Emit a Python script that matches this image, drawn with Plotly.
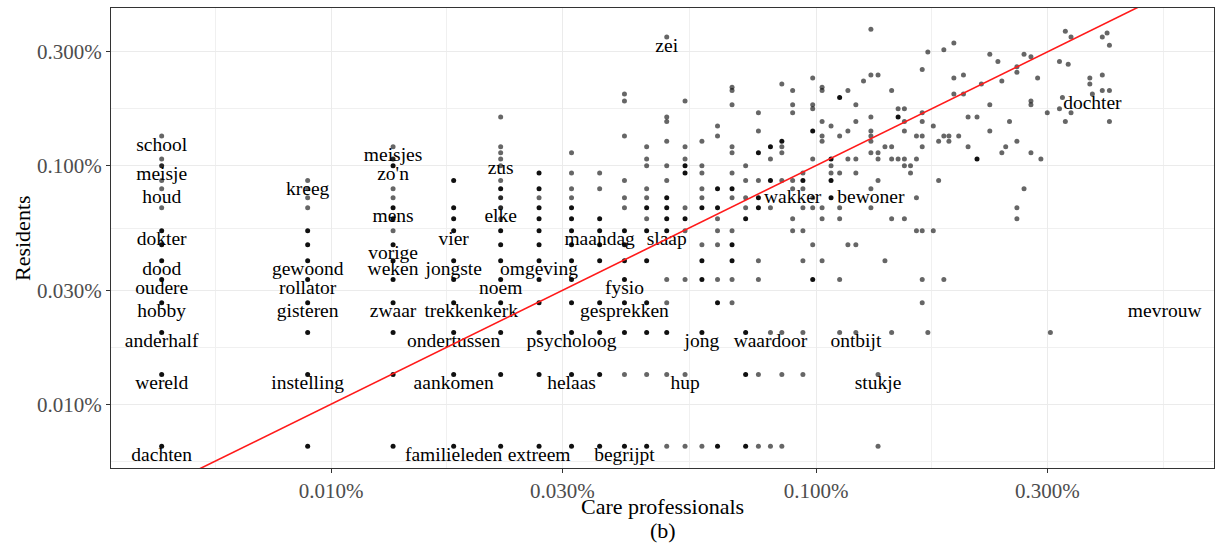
import math
import plotly.graph_objects as go

# One occurrence of a word, expressed as a percentage of each corpus
CP_PCT_PER_WORD = 0.004475   # care professionals
RES_PCT_PER_WORD = 0.00666   # residents

# Word frequencies (occurrence counts); overlap = number of words
# sharing exactly the same pair of counts (stacked translucent dots look darker)
cp_count = [
    1, 1, 1, 1, 1, 1, 1, 1, 1, 1, 1, 1, 1, 1,
    2, 2, 2, 2, 2, 2, 2, 2, 2, 2, 2, 2,
    3, 3, 3, 3, 3, 3, 3, 3, 3, 3, 3, 3, 3, 3, 3,
    4, 4, 4, 4, 4, 4, 4, 4, 4, 4,
    5, 5, 5, 5, 5, 5, 5, 5, 5, 5, 5, 5, 5, 5, 5, 5, 5, 5,
    6, 6, 6, 6, 6, 6, 6, 6, 6, 6, 6, 6, 6,
    7, 7, 7, 7, 7, 7, 7, 7, 7, 7, 7, 7, 7, 7,
    8, 8, 8, 8, 8, 8, 8, 8, 8, 8,
    9, 9, 9, 9, 9, 9, 9, 9, 9, 9, 9, 9, 9, 9,
    10, 10, 10, 10, 10, 10, 10, 10, 10, 10, 10, 10, 10,
    11, 11, 11, 11, 11, 11, 11, 11, 11, 11, 11, 11, 11, 11, 11,
    12, 12, 12, 12, 12, 12, 12, 12, 12, 12, 12,
    13, 13, 13, 13, 13, 13, 13, 13, 13, 13, 13,
    14, 14, 14, 14, 14, 14, 14, 14, 14, 14,
    15, 15, 15, 15, 15, 15, 15, 15, 15, 15, 15, 15, 15,
    16, 16, 16, 16, 16, 16, 16, 16,
    17, 17, 17, 17, 17, 17, 17, 17, 17, 17,
    18, 18, 18, 18, 18, 18,
    19, 19, 19, 19, 19, 19, 19, 19,
    20, 20, 20, 20, 20, 20, 20,
    21, 21, 21, 21, 21, 21, 21, 21,
    22, 22, 22, 22, 22, 22, 22, 22, 22,
    23, 23, 23, 23, 23, 23, 23, 23,
    24, 24, 24, 24, 24, 24,
    25, 25, 25, 25, 25, 25, 25,
    26, 26, 26, 26,
    27, 27, 27, 27, 27, 27,
    28,
    29, 29, 29, 29, 29, 29, 29, 29, 29,
    30, 30, 30, 30, 30, 30,
    31, 31,
    32, 32, 32, 32, 32,
    33, 33, 33,
    34, 34, 34, 34, 34, 34,
    35, 35,
    36, 36, 36, 36,
    37, 37, 37, 37, 37, 37, 37, 37,
    38, 38,
    39, 39,
    40, 40,
    41, 41, 41,
    42, 42,
    43, 43, 43,
    44,
    45, 45,
    46, 46,
    48, 48,
    49,
    51, 51, 51,
    53,
    54, 54,
    55,
    56,
    58, 58, 58, 58, 58,
    60, 60,
    62, 62, 62, 62,
    64,
    65,
    67,
    68,
    71, 71,
    72,
    73, 73,
    74,
    75, 75,
    82, 82,
    83,
    87, 87, 87,
    89,
    90, 90, 90,
]
res_count = [
    1, 2, 3, 4, 5, 6, 7, 8, 10, 12, 13, 15, 16, 20,
    1, 2, 3, 4, 5, 6, 7, 8, 10, 11, 12, 13,
    1, 2, 3, 4, 5, 6, 7, 8, 9, 10, 11, 12, 15, 16, 18,
    1, 2, 3, 4, 5, 6, 8, 9, 10, 13,
    1, 2, 3, 4, 5, 6, 7, 8, 9, 10, 11, 12, 13, 15, 16, 17, 18, 24,
    1, 2, 3, 4, 5, 6, 7, 8, 9, 10, 11, 12, 14,
    1, 2, 3, 4, 5, 6, 7, 8, 9, 10, 11, 12, 14, 17,
    1, 2, 3, 4, 6, 7, 8, 9, 12, 14,
    1, 2, 3, 4, 5, 6, 7, 8, 10, 11, 13, 20, 28, 30,
    1, 2, 3, 4, 6, 8, 9, 10, 11, 12, 15, 16, 18,
    1, 2, 3, 4, 5, 8, 9, 10, 11, 13, 15, 19, 23, 24, 52,
    1, 2, 5, 8, 9, 10, 14, 15, 16, 18, 28,
    1, 3, 5, 6, 7, 10, 11, 12, 14, 15, 19,
    1, 4, 5, 7, 8, 9, 10, 12, 20, 22,
    4, 5, 6, 7, 8, 11, 12, 14, 17, 18, 27, 31, 32,
    1, 2, 3, 9, 10, 11, 13, 15,
    1, 2, 5, 6, 10, 11, 13, 17, 21, 25,
    1, 3, 10, 13, 16, 18,
    1, 2, 3, 13, 17, 18, 19, 33,
    8, 9, 12, 13, 25, 27, 31,
    2, 3, 6, 8, 10, 12, 13, 14,
    5, 7, 10, 11, 16, 21, 26, 27, 35,
    6, 9, 10, 19, 20, 23, 31, 32,
    11, 13, 14, 15, 16, 22,
    3, 5, 9, 10, 14, 20, 29,
    7, 16, 21, 31,
    3, 7, 14, 16, 23, 27,
    34,
    10, 12, 17, 19, 20, 21, 24, 36, 56,
    1, 2, 13, 16, 17, 36,
    6, 18,
    3, 9, 16, 18, 31,
    16, 24, 26,
    9, 15, 16, 21, 23, 26,
    14, 15,
    8, 11, 16, 20,
    4, 5, 8, 18, 20, 23, 25, 38,
    3, 45,
    8, 22,
    13, 19,
    5, 20, 46,
    19, 20,
    30, 35, 49,
    20,
    30, 36,
    18, 24,
    16, 24,
    33,
    21, 27, 44,
    41,
    17, 34,
    18,
    23,
    9, 10, 19, 37, 39,
    12, 44,
    17, 27, 28, 43,
    35,
    16,
    25,
    3,
    26, 41,
    29,
    23, 55,
    40,
    25, 52,
    33, 35,
    30,
    31, 36, 52,
    54,
    23, 31, 48,
]
overlap = [
    3, 3, 3, 3, 3, 3, 3, 3, 1, 1, 1, 2, 1, 1,
    3, 3, 3, 3, 3, 3, 3, 3, 1, 1, 1, 1,
    3, 3, 3, 3, 3, 3, 3, 1, 3, 3, 1, 1, 3, 2, 1,
    3, 3, 3, 3, 3, 3, 3, 3, 3, 3,
    3, 3, 3, 3, 3, 3, 3, 3, 1, 2, 2, 3, 1, 1, 1, 1, 1, 1,
    3, 3, 3, 3, 3, 3, 3, 3, 3, 3, 1, 3, 3,
    3, 3, 3, 3, 3, 3, 3, 3, 3, 3, 1, 1, 1, 1,
    3, 3, 3, 3, 3, 3, 3, 3, 1, 1,
    3, 1, 3, 3, 3, 3, 3, 3, 1, 1, 1, 1, 1, 1,
    3, 1, 3, 3, 3, 3, 1, 3, 1, 1, 1, 1, 1,
    1, 1, 3, 1, 1, 3, 3, 3, 3, 1, 1, 1, 1, 1, 1,
    1, 1, 1, 1, 3, 1, 3, 3, 1, 1, 1,
    1, 3, 3, 3, 1, 3, 1, 1, 1, 1, 1,
    3, 3, 1, 1, 1, 1, 3, 3, 1, 1,
    1, 1, 3, 3, 1, 1, 3, 1, 1, 1, 1, 1, 1,
    3, 3, 3, 3, 1, 1, 1, 1,
    1, 1, 1, 1, 3, 3, 1, 3, 1, 1,
    1, 1, 1, 3, 1, 3,
    1, 1, 1, 1, 1, 1, 3, 1,
    1, 1, 1, 1, 1, 1, 1,
    1, 1, 1, 1, 1, 1, 3, 1,
    3, 1, 1, 1, 1, 3, 1, 1, 1,
    1, 1, 1, 1, 1, 1, 1, 1,
    3, 3, 1, 1, 3, 1,
    1, 1, 1, 1, 1, 1, 3,
    1, 1, 1, 1,
    1, 1, 1, 1, 1, 1,
    1,
    1, 1, 1, 1, 1, 1, 1, 1, 1,
    1, 1, 1, 1, 1, 1,
    1, 1,
    1, 1, 1, 1, 1,
    1, 3, 1,
    1, 1, 1, 1, 1, 1,
    1, 1,
    1, 1, 1, 1,
    1, 1, 1, 1, 1, 1, 1, 1,
    1, 1,
    1, 1,
    1, 1,
    1, 1, 1,
    1, 1,
    1, 1, 1,
    1,
    1, 1,
    1, 1,
    3, 1,
    1,
    1, 1, 1,
    1,
    1, 1,
    1,
    1,
    1, 1, 1, 1, 1,
    1, 1,
    1, 1, 1, 1,
    1,
    1,
    1,
    1,
    1, 1,
    1,
    1, 1,
    1,
    1, 1,
    1, 1,
    1,
    1, 1, 1,
    1,
    1, 1, 1,
]

# Labelled words and their counts
label_words = [
    "dachten", "wereld", "anderhalf", "hobby", "oudere", "dood", "dokter", "houd", "meisje", "school",
    "instelling", "gisteren", "rollator", "gewoond", "kreeg",
    "zwaar", "weken", "vorige", "mens", "zo'n", "meisjes",
    "familieleden", "aankomen", "ondertussen", "trekken", "jongste", "vier",
    "kerk", "noem", "elke", "zus",
    "extreem", "omgeving", "helaas", "psycholoog", "maandag",
    "begrijpt", "gesprekken", "fysio", "slaap", "zei", "hup", "jong",
    "waardoor", "wakker", "ontbijt", "bewoner", "stukje", "dochter", "mevrouw",
]
label_cp = [
    1, 1, 1, 1, 1, 1, 1, 1, 1, 1,
    2, 2, 2, 2, 2,
    3, 3, 3, 3, 3, 3,
    4, 4, 4, 4, 4, 4,
    5, 5, 5, 5,
    6, 6, 7, 7, 8,
    9, 9, 9, 11, 11, 12, 13,
    18, 20, 27, 29, 30, 83, 117,
]
label_res = [
    1, 2, 3, 4, 5, 6, 8, 12, 15, 20,
    2, 4, 5, 6, 13,
    4, 6, 7, 10, 15, 18,
    1, 2, 3, 4, 6, 8,
    4, 5, 10, 16,
    1, 6, 2, 3, 8,
    1, 4, 5, 8, 52, 2, 3,
    3, 12, 3, 12, 2, 30, 4,
]

# Axis breaks (percent) and labels
tick_vals = [0.01, 0.03, 0.1, 0.3]
tick_text = ["0.010%", "0.030%", "0.100%", "0.300%"]
minor_vals = [0.005774, 0.01732, 0.05477, 0.1732, 0.5196]
x_limits = [0.003518, 0.6617]
y_limits = [0.0054, 0.458]
identity_line = [0.002, 1.0]

cp_pct = [c * CP_PCT_PER_WORD for c in cp_count]
res_pct = [r * RES_PCT_PER_WORD for r in res_count]
point_colors = ["rgba(0,0,0,%.3f)" % (1 - 0.4 ** n) for n in overlap]
lab_x = [c * CP_PCT_PER_WORD for c in label_cp]
lab_y = [r * RES_PCT_PER_WORD for r in label_res]

SERIF = "Liberation Serif, Times New Roman, serif"

fig = go.Figure()
fig.add_trace(go.Scatter(
    x=lab_x, y=lab_y, mode="text", text=label_words,
    textposition="bottom center",
    textfont=dict(family=SERIF, size=19.5, color="black"),
    hoverinfo="skip",
))
fig.add_trace(go.Scatter(
    x=cp_pct, y=res_pct, mode="markers",
    marker=dict(size=5, color=point_colors, line=dict(width=0)),
))
fig.add_trace(go.Scatter(
    x=identity_line, y=identity_line, mode="lines",
    line=dict(color="#ff1a1a", width=1.6),
))

axis_common = dict(
    type="log",
    tickvals=tick_vals, ticktext=tick_text,
    tickfont=dict(family=SERIF, size=21, color="#4d4d4d"),
    showgrid=True, gridcolor="#ebebeb", gridwidth=1,
    minor=dict(tickvals=minor_vals, showgrid=True, gridcolor="#f0f0f0", gridwidth=0.7, ticks=""),
    showline=True, linecolor="#333333", linewidth=1.2, mirror=True,
    ticks="outside", ticklen=4, tickwidth=1, tickcolor="#333333",
    zeroline=False,
)
fig.update_xaxes(range=[math.log10(x_limits[0]), math.log10(x_limits[1])], **axis_common)
fig.update_yaxes(range=[math.log10(y_limits[0]), math.log10(y_limits[1])], **axis_common)

fig.update_layout(
    width=1220, height=550,
    margin=dict(l=111, r=6, t=8, b=82),
    plot_bgcolor="white", paper_bgcolor="white",
    showlegend=False,
    font=dict(family=SERIF, color="black"),
    annotations=[
        dict(text="Care professionals", xref="paper", yref="paper", x=0.5, y=-0.083,
             xanchor="center", yanchor="middle", showarrow=False,
             font=dict(family=SERIF, size=22, color="black")),
        dict(text="(b)", xref="paper", yref="paper", x=0.5, y=-0.135,
             xanchor="center", yanchor="middle", showarrow=False,
             font=dict(family=SERIF, size=22, color="black")),
        dict(text="Residents", xref="paper", yref="paper", x=-0.0807, y=0.5,
             xanchor="center", yanchor="middle", textangle=-90, showarrow=False,
             font=dict(family=SERIF, size=22, color="black")),
    ],
)

fig.write_html("out.html")
